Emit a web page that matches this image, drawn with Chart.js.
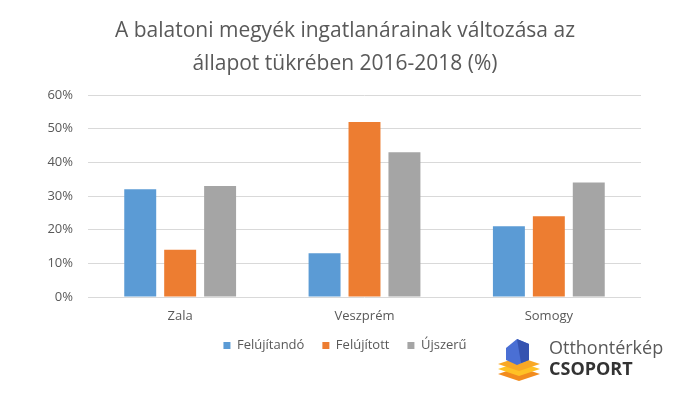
<!DOCTYPE html>
<html>
<head>
<meta charset="utf-8">
<script src="https://cdn.jsdelivr.net/npm/chart.js@4/dist/chart.umd.min.js"></script>
<style>
  html, body { margin: 0; padding: 0; background: #fff; }
  #wrap { position: relative; width: 690px; height: 394px; }
  #logo { position: absolute; left: 496px; top: 335px; }
  #logoText { position: absolute; left: 549px; top: 337px; font-family: "Open Sans", sans-serif; font-size: 18px; line-height: 21px; }
  #logoText .a { color: #595959; }
  #logoText .b { color: #333; font-weight: bold; }
</style>
</head>
<body>
<div id="wrap">
  <canvas id="chart" width="690" height="394"></canvas>
  <!-- logo a jobb alsó sarokban -->
  <svg id="logo" width="46" height="50" viewBox="0 0 46 50">
    <polygon points="2,39 23,32 44,39 23,46" fill="#F28C1E"/>
    <polygon points="2,34 23,27 44,34 23,41" fill="#FFC125"/>
    <polygon points="2,29 23,22 44,29 23,36" fill="#F9A825"/>
    <polygon points="10,13 21,4 33,9 33,25 21,30 10,25" fill="#4A6FD4"/>
    <polygon points="21,4 33,9 33,25 25,28" fill="#3553B0"/>
  </svg>
  <div id="logoText"><div class="a">Otthontérkép</div><div class="b">CSOPORT</div></div>
</div>
<script>
// Adatok
const megyek = ['Zala', 'Veszprém', 'Somogy'];
const felujitando = [32, 13, 21];
const felujitott = [14, 52, 24];
const ujszeru = [33, 43, 34];
const yTicks = [0, 10, 20, 30, 40, 50, 60];

const szoveg = '#595959';
const betu = '"Open Sans", sans-serif';

document.addEventListener('DOMContentLoaded', function() {
    const ctx = document.getElementById('chart').getContext('2d');
    new Chart(ctx, {
        type: 'bar',
        data: {
            labels: megyek,
            datasets: [
                { label: 'Felújítandó', data: felujitando, backgroundColor: '#5B9BD5' },
                { label: 'Felújított', data: felujitott, backgroundColor: '#ED7D31' },
                { label: 'Újszerű', data: ujszeru, backgroundColor: '#A5A5A5' }
            ]
        },
        options: {
            responsive: false,
            animation: false,
            categoryPercentage: 0.65,
            barPercentage: 0.8,
            layout: { padding: { left: 0, right: 0, top: 0, bottom: 32 } },
            plugins: {
                title: {
                    display: true,
                    text: ['A balatoni megyék ingatlanárainak változása az', 'állapot tükrében 2016-2018 (%)'],
                    color: szoveg,
                    font: { family: betu, size: 21, weight: 'normal', lineHeight: 33 / 21 },
                    padding: { top: 15, bottom: 14 }
                },
                legend: {
                    position: 'bottom',
                    labels: {
                        color: szoveg,
                        font: { family: betu, size: 13 },
                        boxWidth: 7,
                        boxHeight: 7,
                        padding: 18
                    }
                },
                tooltip: { enabled: false }
            },
            scales: {
                x: {
                    grid: { display: false, drawTicks: false },
                    border: { display: false },
                    ticks: { color: szoveg, font: { family: betu, size: 13 }, padding: 11 },
                    afterFit: function(scale) {
                        scale.height = 24;
                        // ne vágja le a feliratok alját (a legenda közel van)
                        scale._computeLabelArea = function() {};
                    }
                },
                y: {
                    min: 0,
                    max: 60,
                    afterBuildTicks: function(scale) {
                        scale.ticks = yTicks.map(v => ({ value: v }));
                    },
                    afterFit: function(scale) { scale.width = 88; },
                    grid: { color: '#D9D9D9', drawTicks: false },
                    border: { display: false },
                    ticks: {
                        color: szoveg,
                        font: { family: betu, size: 13 },
                        padding: 15,
                        callback: v => v + '%'
                    }
                },
                jobb: {
                    position: 'right',
                    grid: { display: false },
                    border: { display: false },
                    ticks: { display: false },
                    afterFit: function(scale) { scale.width = 49; }
                }
            }
        }
    });
});
</script>
</body>
</html>
